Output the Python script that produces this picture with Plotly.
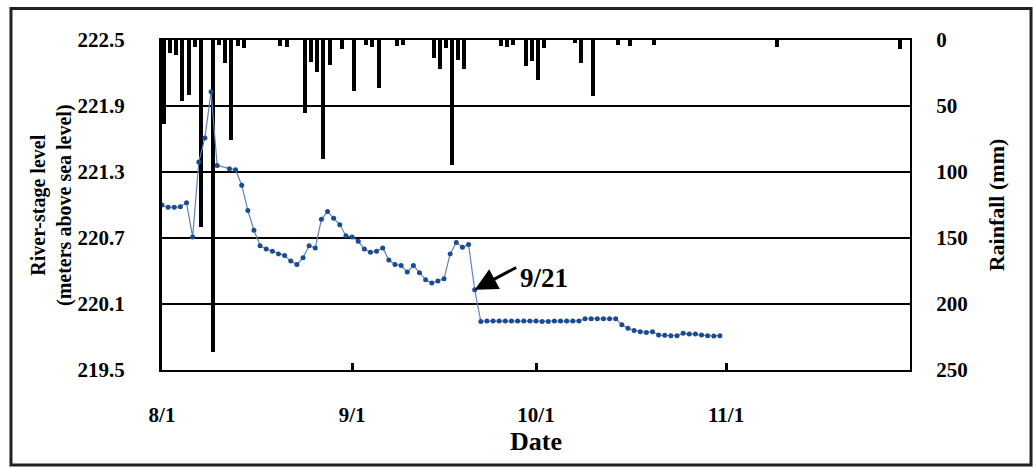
import datetime as dt
import plotly.graph_objects as go

# ---------------- data ----------------
start = dt.date(2010, 8, 1)

# River stage: day offset from 8/1 and level (m a.s.l.)
stage_day = [0, 1, 2, 3, 4, 5, 6, 7, 8, 9, 11, 12, 13, 14, 15, 16, 17, 18, 19, 20,
             21, 22, 23, 24, 25, 26, 27, 28, 29, 30, 31, 32, 33, 34, 35, 36, 37, 38, 39, 40,
             41, 42, 43, 44, 45, 46, 47, 48, 49, 50, 51, 52, 53, 54, 55, 56, 57, 58, 59, 60,
             61, 62, 63, 64, 65, 66, 67, 68, 69, 70, 71, 72, 73, 74, 75, 76, 77, 78, 79, 80,
             81, 82, 83, 84, 85, 86, 87, 88, 89, 90, 91]
stage_level = [221.00, 220.98, 220.98, 220.985, 221.02, 220.71, 221.39, 221.61, 222.03, 221.36,
               221.33, 221.32, 221.18, 220.95, 220.77, 220.63, 220.60, 220.58, 220.555, 220.54,
               220.49, 220.46, 220.52, 220.63, 220.61, 220.87, 220.94, 220.88, 220.82, 220.72,
               220.71, 220.67, 220.60, 220.57, 220.58, 220.61, 220.50, 220.46, 220.45, 220.39,
               220.45, 220.385, 220.32, 220.29, 220.31, 220.33, 220.555, 220.66, 220.615, 220.64,
               220.23, 219.94, 219.945, 219.945, 219.945, 219.945, 219.945, 219.945, 219.945, 219.945,
               219.945, 219.94, 219.94, 219.945, 219.945, 219.945, 219.945, 219.945, 219.966, 219.966,
               219.966, 219.966, 219.966, 219.966, 219.912, 219.879, 219.86, 219.848, 219.842, 219.848,
               219.818, 219.815, 219.812, 219.812, 219.833, 219.827, 219.827, 219.818, 219.812, 219.81,
               219.812]

# Daily rainfall (mm)
rain_day = [0, 1, 2, 3, 4, 5, 6, 8, 9, 10, 11, 12, 13, 19, 20, 23, 24, 25, 26, 27,
            29, 31, 33, 34, 35, 38, 39, 44, 45, 46, 47, 48, 49, 55, 56, 57, 59, 60, 61, 62,
            67, 68, 70, 74, 76, 80, 100, 120]
rain_mm = [63.6, 10, 11.4, 46, 41.7, 5.5, 142, 236, 3.8, 17.7, 75.8, 4.5, 6.3, 4.5, 5.5, 55.6, 16.4, 24, 90.4, 19,
           6.8, 39, 4, 5, 36.6, 4.3, 3.8, 13.9, 22.2, 6.3, 94.7, 15.2, 22.2, 4.5, 5, 3.8, 19.5, 16, 30.3, 6.3,
           2.5, 17.7, 42.2, 3.8, 4.3, 3.8, 5, 7]

tick_dates = ["2010-08-01", "2010-09-01", "2010-10-01", "2010-11-01"]
tick_text = ["8/1", "9/1", "10/1", "11/1"]
stage_ticks = [219.5, 220.1, 220.7, 221.3, 221.9, 222.5]
rain_ticks = [0, 50, 100, 150, 200, 250]

stage_title = "River-stage level<br>(meters above sea level)"
rain_title = "Rainfall (mm)"
x_title = "Date"
annot_day = 51
annot_text = "9/21"

# ---------------- build ----------------
stage_x = [start + dt.timedelta(days=d) for d in stage_day]
rain_x = [start + dt.timedelta(days=d) for d in rain_day]
DAY_MS = 86400000

FONT = "Liberation Serif"

fig = go.Figure()

fig.add_trace(go.Bar(
    x=rain_x, y=rain_mm, yaxis="y",
    marker=dict(color="black", line=dict(width=0)),
    width=0.65 * DAY_MS, offset=0,
    name="Rainfall", showlegend=False,
))

fig.add_trace(go.Scatter(
    x=stage_x, y=stage_level, yaxis="y2",
    mode="lines+markers",
    line=dict(color="#5f84bb", width=1.2),
    marker=dict(color="#1b4c8e", size=5),
    name="River stage", showlegend=False,
))

fig.update_layout(
    width=1033, height=468,
    margin=dict(l=162, r=123, t=40, b=98, autoexpand=False),
    paper_bgcolor="white", plot_bgcolor="white",
    font=dict(family=FONT, color="black"),
    bargap=0,
    xaxis=dict(
        type="date",
        range=["2010-08-01", "2010-12-01"],
        tickmode="array", tickvals=tick_dates, ticktext=tick_text,
        ticks="inside", ticklen=7, tickwidth=3, tickcolor="black",
        ticklabelstandoff=25,
        tickfont=dict(family=FONT, size=21, color="black", weight="bold"),
        showgrid=False, zeroline=False,
        showline=True, linecolor="black", linewidth=2, mirror=True,
        title=dict(text="<b>%s</b>" % x_title, font=dict(family=FONT, size=26, color="black"), standoff=0),
    ),
    yaxis=dict(
        side="right",
        range=[250, 0],
        tickmode="array", tickvals=rain_ticks,
        ticks="", ticklabelstandoff=20,
        tickfont=dict(family=FONT, size=21, color="black", weight="bold"),
        showgrid=True, gridcolor="black", gridwidth=2,
        zeroline=False,
        showline=True, linecolor="black", linewidth=2,
        title=dict(text="<b>%s</b>" % rain_title, font=dict(family=FONT, size=22, color="black"), standoff=22),
    ),
    yaxis2=dict(
        side="left", overlaying="y",
        range=[219.5, 222.5],
        tickmode="array", tickvals=stage_ticks,
        tickformat=".1f",
        ticks="", ticklabelstandoff=30,
        tickfont=dict(family=FONT, size=21, color="black", weight="bold"),
        showgrid=False, zeroline=False,
        showline=True, linecolor="black", linewidth=3,
    ),
)

# left axis title (placed as rotated text)
fig.add_annotation(
    xref="paper", yref="paper", x=-0.1484, y=0.5,
    xanchor="center", yanchor="middle",
    text="<b>%s</b>" % stage_title, textangle=-90, showarrow=False,
    font=dict(family=FONT, size=20, color="black"),
)

# annotation arrow and label
pt_x = start + dt.timedelta(days=annot_day)
pt_y = stage_level[stage_day.index(annot_day)]
fig.add_annotation(
    x=pt_x, y=pt_y, xref="x", yref="y2",
    text="", showarrow=True, arrowhead=2, arrowsize=1.5, arrowwidth=3,
    arrowcolor="black", ax=43, ay=-23, standoff=0,
)
fig.add_annotation(
    x=pt_x, y=pt_y, xref="x", yref="y2",
    text="<b>%s</b>" % annot_text, showarrow=False,
    xshift=69, yshift=12,
    font=dict(family=FONT, size=27, color="black"),
)

# outer frame
fig.add_shape(type="rect", xref="paper", yref="paper",
              x0=-0.2019, x1=1.1618, y0=-0.2879, y1=1.0955,
              line=dict(color="#222222", width=3), layer="below")

fig.write_html("out.html")
